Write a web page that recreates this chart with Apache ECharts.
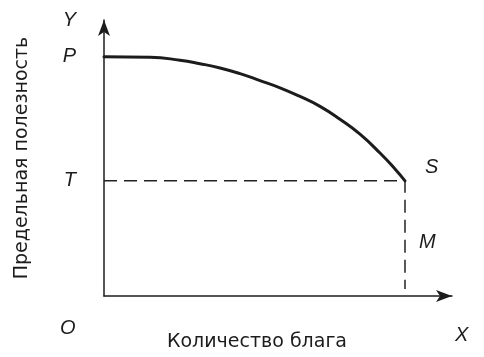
<!DOCTYPE html>
<html>
<head>
<meta charset="utf-8">
<script src="https://cdn.jsdelivr.net/npm/echarts@6/dist/echarts.min.js"></script>
<style>
  html, body { margin: 0; padding: 0; background: #fff; }
  #chart { width: 484px; height: 357px; }
</style>
</head>
<body>
<div id="chart"></div>
<script>
// curve of marginal utility (units: axis scale, origin at O)
const curveX = [0, 46, 76, 96, 116, 136, 156, 176, 196, 216, 236, 256, 276, 291, 301]
const curveY = [241, 240.5, 237.5, 234, 229.7, 224, 217, 209.7, 201, 191, 178, 163, 144, 128, 116]
// dashed guide: T -> S -> M
const guideX = [0, 301, 301]
const guideY = [116, 116, 7]
// letters on the Y axis
const yTickValues = [278, 241, 116]
const yTickNames = ['Y', 'P', 'T']

const xName = 'Количество блага'
const yName = 'Предельная полезность'

const ink = '#1c1c1c'
const letterStyle = {
  fontFamily: 'Liberation Sans',
  fontStyle: 'italic',
  fontSize: 20,
  fill: ink
}

const chart = echarts.init(document.getElementById('chart'))
const option = {
  animation: false,
  grid: {
    left: 104,
    right: 32,
    top: 20,
    bottom: 59
  },
  xAxis: {
    type: 'value',
    min: 0,
    max: 348,
    name: xName,
    nameLocation: 'middle',
    nameGap: 37,
    nameTextStyle: {
      fontFamily: 'DejaVu Sans',
      fontSize: 19,
      color: ink,
      padding: [0, 42, 0, 0]
    },
    axisLine: {
      show: true,
      symbol: ['none', 'arrow'],
      symbolSize: [9, 16],
      lineStyle: { color: ink, width: 1.5 }
    },
    axisTick: { show: false },
    axisLabel: { show: false },
    splitLine: { show: false }
  },
  yAxis: {
    type: 'value',
    min: 0,
    max: 278,
    name: yName,
    nameLocation: 'middle',
    nameGap: 72,
    nameTextStyle: {
      fontFamily: 'DejaVu Sans',
      fontSize: 19,
      color: ink
    },
    axisLine: {
      show: true,
      symbol: ['none', 'arrow'],
      symbolSize: [9, 16],
      lineStyle: { color: ink, width: 1.5 }
    },
    axisTick: { show: false },
    splitLine: { show: false },
    axisLabel: {
      customValues: yTickValues,
      formatter: function (v) {
        return yTickNames[yTickValues.indexOf(v)] || ''
      },
      margin: 28,
      fontFamily: 'Liberation Sans',
      fontStyle: 'italic',
      fontSize: 20,
      color: ink
    }
  },
  series: [
    {
      type: 'line',
      data: guideX.map((x, i) => [x, guideY[i]]),
      symbol: 'none',
      lineStyle: { color: '#222', width: 1.5, type: [13, 7] },
      z: 1
    },
    {
      type: 'line',
      data: curveX.map((x, i) => [x, curveY[i]]),
      smooth: 0.5,
      symbol: 'none',
      lineStyle: { color: ink, width: 3, cap: 'round' },
      endLabel: {
        show: true,
        formatter: 'S',
        offset: [12, -13],
        fontFamily: 'Liberation Sans',
        fontStyle: 'italic',
        fontSize: 20,
        color: ink
      },
      z: 2
    }
  ],
  graphic: [
    { type: 'text', left: 419, top: 232, style: Object.assign({ text: 'M' }, letterStyle) },
    { type: 'text', left: 60, top: 318, style: Object.assign({ text: 'O' }, letterStyle) },
    { type: 'text', left: 455, top: 325, style: Object.assign({ text: 'X' }, letterStyle) }
  ]
}
chart.setOption(option)
</script>
</body>
</html>
